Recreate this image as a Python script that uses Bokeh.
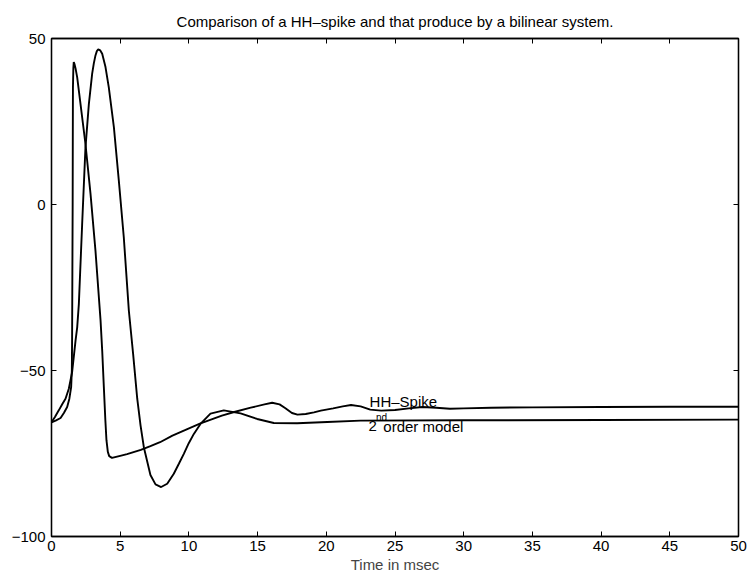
from bokeh.plotting import figure
from bokeh.models import Range1d, LinearAxis, FixedTicker
from bokeh.core.properties import value
from bokeh.embed import file_html
from bokeh.resources import INLINE

# ---- data ----
hh_t = [0, 0.3, 0.66, 0.9, 1.14, 1.3, 1.43, 1.48, 1.5, 1.52, 1.54, 1.55, 1.56, 1.59, 1.62,
        1.68, 1.75, 1.87, 2.11, 2.47, 2.84, 3.2, 3.57, 3.69, 3.81, 3.92, 4.0, 4.1, 4.2, 4.4,
        5.0, 5.5, 6.5, 7.2, 7.9, 8.8, 9.8, 10.8, 11.6, 12.4, 13.3, 14.5, 15.5, 16.06, 16.6,
        17.0, 17.5, 17.9, 18.5, 19.1, 19.6, 20.5, 21.2, 21.8, 22.5, 23.2, 24.0, 25.0, 26.0,
        27.0, 28.0, 29.0, 30.0, 32.0, 35.0, 40.0, 45.0, 50.0]
hh_v = [-65.6, -65.1, -64.3, -62.8, -61.0, -58.5, -55.0, -50.0, -40.0, -20.0, 0.0, 20.0, 35.0,
        41.0, 42.9, 42.2, 41.0, 38.3, 30.3, 18.3, 3.2, -13.9, -34.9, -44.0, -55.0, -65.0, -71.0,
        -74.5, -75.8, -76.3, -75.7, -75.2, -73.9, -72.8, -71.6, -69.6, -67.8, -66.0, -64.8,
        -63.6, -62.5, -61.2, -60.2, -59.7, -60.2, -61.3, -62.8, -63.3, -63.1, -62.6, -62.1,
        -61.4, -60.8, -60.4, -60.8, -61.8, -62.1, -61.9, -61.4, -61.0, -61.2, -61.5, -61.4,
        -61.2, -61.1, -61.0, -60.9, -60.9]

model_t = [0, 0.25, 0.53, 0.8, 1.02, 1.26, 1.5, 1.75, 1.87, 1.99, 2.23, 2.47, 2.72, 2.96, 3.08,
           3.2, 3.3, 3.4, 3.55, 3.69, 3.93, 4.17, 4.54, 4.9, 5.26, 5.63, 5.94, 6.24, 6.48, 6.72,
           7.2, 7.57, 7.98, 8.42, 8.9, 9.27, 9.63, 9.99, 10.36, 10.84, 11.57, 12.54, 13.76,
           14.97, 16.18, 17.88, 20.07, 22.49, 30.0, 40.0, 50.0]
model_v = [-65.6, -64.0, -62.0, -60.0, -58.5, -55.5, -50.5, -41.0, -37.0, -30.0, -6.0, 17.0,
           30.3, 39.4, 42.5, 44.9, 46.2, 46.7, 46.4, 45.4, 41.4, 35.3, 23.3, 7.2, -9.8, -32.0,
           -45.0, -58.5, -66.5, -73.1, -81.5, -84.3, -85.1, -84.1, -81.1, -78.1, -75.1, -71.9,
           -69.1, -66.1, -63.0, -62.0, -62.9, -64.6, -65.8, -65.9, -65.5, -65.1, -65.0, -64.9,
           -64.8]

x_ticks = [0, 5, 10, 15, 20, 25, 30, 35, 40, 45, 50]
y_ticks = [-100, -50, 0, 50]
y_tick_labels = {-100: "\u2212100", -50: "\u221250", 0: "0", 50: "50"}

title_text = "Comparison of a HH\u2013spike and that produce by a bilinear system."
x_label = "Time in msec"
hh_label = "HH\u2013Spike"
model_label_a = "2"
model_label_sup = "nd"
model_label_b = "order model"

FONT = "Liberation Sans"

p = figure(width=749, height=576, output_backend="svg", toolbar_location=None,
           x_range=Range1d(0, 50), y_range=Range1d(-100, 50),
           min_border_left=51, min_border_right=11, min_border_top=38, min_border_bottom=40,
           title=title_text)
p.background_fill_color = "white"
p.border_fill_color = "white"
p.outline_line_color = "black"
p.outline_line_width = 1.3
p.grid.visible = False

p.title.align = "center"
p.title.text_font = FONT
p.title.text_font_size = "15px"
p.title.text_font_style = "normal"
p.title.text_color = "black"
p.title.standoff = 18

def style_axis(ax, ticks, show_labels):
    ax.ticker = FixedTicker(ticks=ticks)
    ax.major_tick_in = 5
    ax.major_tick_out = 0
    ax.minor_tick_line_color = None
    ax.axis_line_color = "black"
    ax.axis_line_width = 1.3
    ax.major_tick_line_color = "black"
    ax.major_tick_line_width = 1
    ax.major_label_text_font = FONT
    ax.major_label_text_color = "black"
    if show_labels:
        ax.major_label_text_font_size = "15px"
    else:
        ax.major_label_text_color = None
        ax.major_label_text_font_size = "0px"
        ax.major_label_standoff = 0

xa = p.xaxis[0]
style_axis(xa, x_ticks, True)
xa.major_label_standoff = 4
xa.axis_label = x_label
xa.axis_label_text_font = FONT
xa.axis_label_text_font_size = "15px"
xa.axis_label_text_font_style = "normal"
xa.axis_label_standoff = 2

ya = p.yaxis[0]
style_axis(ya, y_ticks, True)
ya.major_label_standoff = 6
ya.major_label_overrides = y_tick_labels

top_axis = LinearAxis()
style_axis(top_axis, x_ticks, False)
p.add_layout(top_axis, "above")

right_axis = LinearAxis()
style_axis(right_axis, y_ticks, False)
p.add_layout(right_axis, "right")

p.line(hh_t, hh_v, line_color="black", line_width=1.9)
p.line(model_t, model_v, line_color="black", line_width=1.9)

p.text(x=[23.15], y=[-59.4], text=[hh_label], text_font=value(FONT),
       text_font_size="15px", text_baseline="alphabetic", text_color="black")
p.text(x=[23.07], y=[-66.8], text=[model_label_a], text_font=value(FONT),
       text_font_size="15px", text_baseline="alphabetic", text_color="black")
p.text(x=[23.62], y=[-64.3], text=[model_label_sup], text_font=value(FONT),
       text_font_size="10px", text_baseline="alphabetic", text_color="black")
p.text(x=[24.15], y=[-66.8], text=[model_label_b], text_font=value(FONT),
       text_font_size="15px", text_baseline="alphabetic", text_color="black")

open("out.html", "w").write(file_html(p, INLINE))
